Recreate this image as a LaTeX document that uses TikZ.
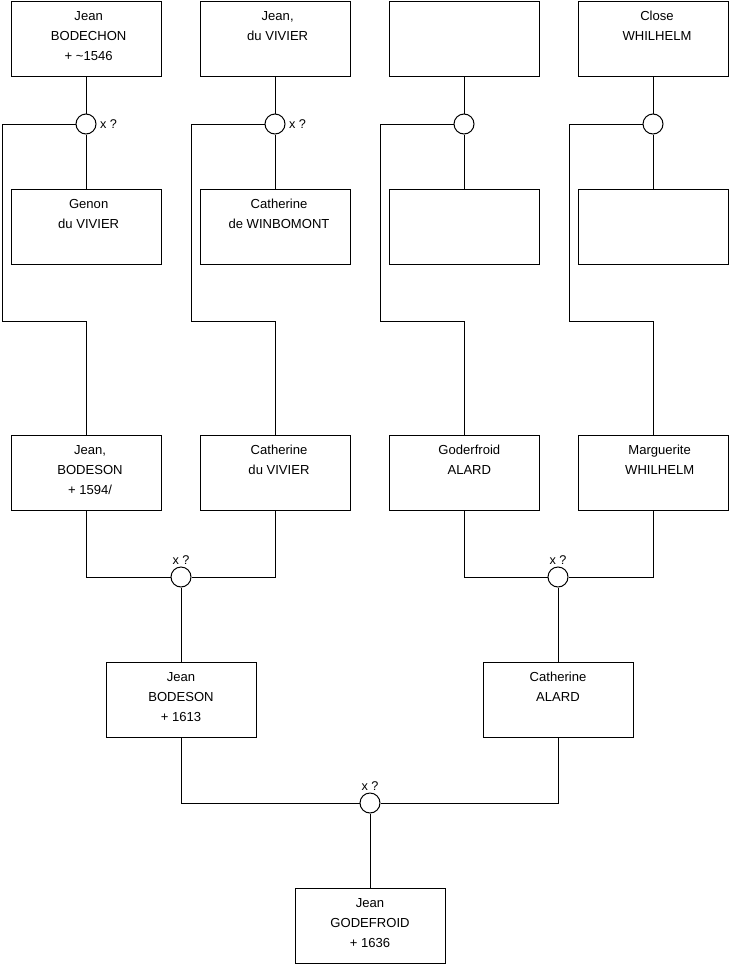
\documentclass[tikz,border=0pt]{standalone}
\usepackage{fontspec}
\setmainfont{Liberation Sans}
\begin{document}
\begin{tikzpicture}[x=0.75pt,y=-0.75pt,
  box/.style={draw, line width=0.75pt, minimum width=112.5pt, minimum height=56.5pt, anchor=north, inner sep=0},
  txt/.style={anchor=north, align=center, font=\fontsize{9.8}{15}\selectfont, inner sep=0},
  ring/.style={draw, circle, fill=white, minimum size=15pt, inner sep=0, line width=0.75pt},
  lk/.style={line width=0.75pt},
  lab/.style={font=\fontsize{9.5}{11}\selectfont, inner sep=0}]
\useasboundingbox (0,0) rectangle (740,975);
% row 1
\node[box] (a1) at (86,1) {};
\node[box] (a2) at (275,1) {};
\node[box] (a3) at (464,1) {};
\node[box] (a4) at (653,1) {};
% row 2
\node[box] (g1) at (86,189) {};
\node[box] (g2) at (275,189) {};
\node[box] (g3) at (464,189) {};
\node[box] (g4) at (653,189) {};
% row 3
\node[box] (p1) at (86,435) {};
\node[box] (p2) at (275,435) {};
\node[box] (p3) at (464,435) {};
\node[box] (p4) at (653,435) {};
% row 4
\node[box] (r1) at (181,662) {};
\node[box] (r2) at (558,662) {};
% final
\node[box] (f) at (370,888) {};
% texts
\node[txt] (ta1) at ([xshift=2pt,yshift=-7.5pt]a1.north) {Jean\\BODECHON\\+ \textasciitilde1546};
\node[txt] (ta2) at ([xshift=2pt,yshift=-7.5pt]a2.north) {Jean,\\du VIVIER};
\node[txt] (ta4) at ([xshift=3pt,yshift=-7.5pt]a4.north) {Close\\WHILHELM};
\node[txt] (tg1) at ([xshift=2pt,yshift=-7.5pt]g1.north) {Genon\\du VIVIER};
\node[txt] (tg2) at ([xshift=3pt,yshift=-7.5pt]g2.north) {Catherine\\de WINBOMONT};
\node[txt] (tp1) at ([xshift=3pt,yshift=-7.5pt]p1.north) {Jean,\\BODESON\\+ 1594/};
\node[txt] (tp2) at ([xshift=3pt,yshift=-7.5pt]p2.north) {Catherine\\du VIVIER};
\node[txt] (tp3) at ([xshift=4pt,yshift=-7.5pt]p3.north) {Goderfroid\\ALARD};
\node[txt] (tp4) at ([xshift=5pt,yshift=-7.5pt]p4.north) {Marguerite\\WHILHELM};
\node[txt] (tr1) at ([yshift=-7.5pt]r1.north) {Jean\\BODESON\\+ 1613};
\node[txt] (tr2) at ([yshift=-7.5pt]r2.north) {Catherine\\ALARD};
\node[txt] (tf) at ([yshift=-7.5pt]f.north) {Jean\\GODEFROID\\+ 1636};
% circles
\node[ring] (c1) at (86,124) {};
\node[ring] (c2) at (275,124) {};
\node[ring] (c3) at (464,124) {};
\node[ring] (c4) at (653,124) {};
\node[ring] (c5) at (181,577) {};
\node[ring] (c6) at (558,577) {};
\node[ring] (c7) at (370,803) {};
% labels
\node[lab, anchor=west] (l1) at ([xshift=2.5pt]c1.east) {x ?};
\node[lab, anchor=west] (l2) at ([xshift=2.5pt]c2.east) {x ?};
\node[lab, anchor=south] (l5) at ([yshift=1.5pt]c5.north) {x ?};
\node[lab, anchor=south] (l6) at ([yshift=1.5pt]c6.north) {x ?};
\node[lab, anchor=south] (l7) at ([yshift=1.5pt]c7.north) {x ?};
% coordinates for bends
\coordinate (k1a) at (2,124); \coordinate (k1b) at (2,321); \coordinate (k1c) at (86,321);
\coordinate (k2a) at (191,124); \coordinate (k2b) at (191,321); \coordinate (k2c) at (275,321);
\coordinate (k3a) at (380,124); \coordinate (k3b) at (380,321); \coordinate (k3c) at (464,321);
\coordinate (k4a) at (569,124); \coordinate (k4b) at (569,321); \coordinate (k4c) at (653,321);
\coordinate (m1) at (86,577); \coordinate (m2) at (275,577);
\coordinate (m3) at (464,577); \coordinate (m4) at (653,577);
\coordinate (n1) at (181,803); \coordinate (n2) at (558,803);
% connectors
\foreach \i in {1,2,3,4} {
  \draw[lk] (a\i.south) -- (c\i.north);
  \draw[lk] (c\i.south) -- (g\i.north);
  \draw[lk] (c\i.west) -- (k\i a) -- (k\i b) -- (k\i c) -- (p\i.north);
}
\draw[lk] (p1.south) -- (m1) -- (c5.west);
\draw[lk] (p2.south) -- (m2) -- (c5.east);
\draw[lk] (p3.south) -- (m3) -- (c6.west);
\draw[lk] (p4.south) -- (m4) -- (c6.east);
\draw[lk] (c5.south) -- (r1.north);
\draw[lk] (c6.south) -- (r2.north);
\draw[lk] (r1.south) -- (n1) -- (c7.west);
\draw[lk] (r2.south) -- (n2) -- (c7.east);
\draw[lk] (c7.south) -- (f.north);
\end{tikzpicture}
\end{document}
